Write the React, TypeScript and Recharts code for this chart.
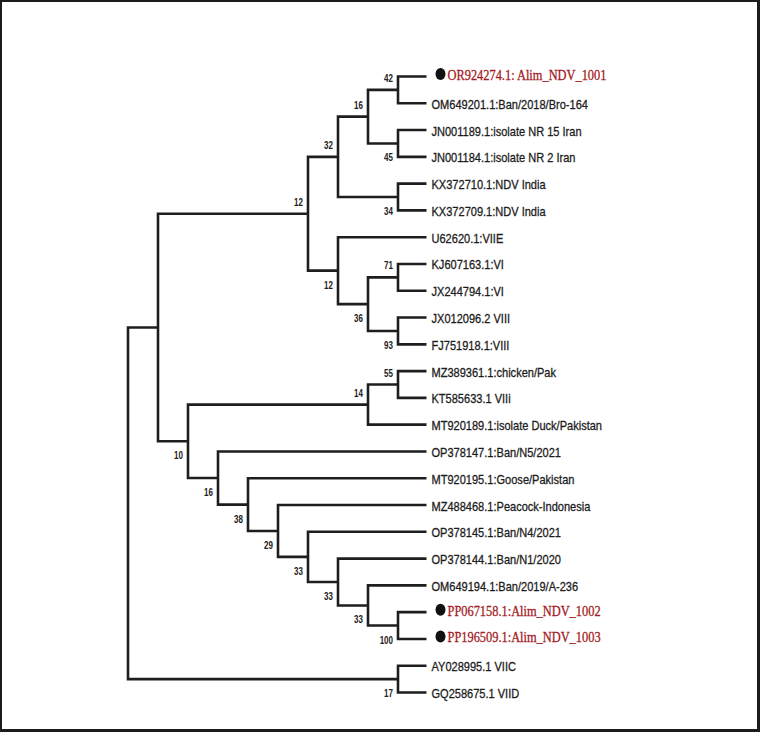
import React from 'react';
import { ComposedChart, Line, Scatter, XAxis, YAxis } from 'recharts';

// leaves, top to bottom
const leafNames = [
  'OR924274.1: Alim_NDV_1001',
  'OM649201.1:Ban/2018/Bro-164',
  'JN001189.1:isolate NR 15 Iran',
  'JN001184.1:isolate NR 2 Iran',
  'KX372710.1:NDV India',
  'KX372709.1:NDV India',
  'U62620.1:VIIE',
  'KJ607163.1:VI',
  'JX244794.1:VI',
  'JX012096.2 VIII',
  'FJ751918.1:VIII',
  'MZ389361.1:chicken/Pak',
  'KT585633.1 VIIi',
  'MT920189.1:isolate Duck/Pakistan',
  'OP378147.1:Ban/N5/2021',
  'MT920195.1:Goose/Pakistan',
  'MZ488468.1:Peacock-Indonesia',
  'OP378145.1:Ban/N4/2021',
  'OP378144.1:Ban/N1/2020',
  'OM649194.1:Ban/2019/A-236',
  'PP067158.1:Alim_NDV_1002',
  'PP196509.1:Alim_NDV_1003',
  'AY028995.1 VIIC',
  'GQ258675.1 VIID',
];

// isolates from this study (marked with a dot)
const novelIsolates = [0, 20, 21];

const leafDepth = 9.95;

// internal nodes: id, depth, children (number = leaf index), bootstrap
const nodeIds = ['root', 'A', 'B', 'C', 'H', 'J', 'K', 'I', 'D', 'E', 'F', 'G', 'L', 'M', 'O', 'N', 'P', 'Q', 'R', 'S', 'T', 'U', 'V'];
const nodeDepths = [0, 1, 6, 7, 8, 9, 9, 9, 7, 8, 9, 9, 2, 8, 9, 3, 4, 5, 6, 7, 8, 9, 9];
const nodeChildren: (string | number)[][] = [
  ['A', 'V'],
  ['B', 'L'],
  ['C', 'D'],
  ['H', 'I'],
  ['J', 'K'],
  [0, 1],
  [2, 3],
  [4, 5],
  [6, 'E'],
  ['F', 'G'],
  [7, 8],
  [9, 10],
  ['M', 'N'],
  ['O', 13],
  [11, 12],
  [14, 'P'],
  [15, 'Q'],
  [16, 'R'],
  [17, 'S'],
  [18, 'T'],
  [19, 'U'],
  [20, 21],
  [22, 23],
];
const bootstrap: (number | null)[] = [null, null, 12, 32, 16, 42, 45, 34, 12, 36, 71, 93, 10, 14, 55, 16, 38, 29, 33, 33, 33, 100, 17];

const nodeIndex: Record<string, number> = Object.fromEntries(nodeIds.map((id, i) => [id, i]));

function posOf(c: string | number): { x: number; y: number } {
  if (typeof c === 'number') return { x: leafDepth, y: c };
  const i = nodeIndex[c];
  const kids = nodeChildren[i];
  const a = posOf(kids[0]);
  const b = posOf(kids[kids.length - 1]);
  return { x: nodeDepths[i], y: (a.y + b.y) / 2 };
}

// elbow branches, broken by null
const branchPoints: { x: number; y: number | null }[] = [];
nodeIds.forEach((id, i) => {
  const p = posOf(id);
  const [c1, c2] = nodeChildren[i].map(posOf);
  branchPoints.push(
    { x: c1.x, y: c1.y },
    { x: p.x, y: c1.y },
    { x: p.x, y: c2.y },
    { x: c2.x, y: c2.y },
    { x: c2.x, y: null },
  );
});

const leafPoints = leafNames.map((name, i) => ({ x: leafDepth, y: i, name, novel: novelIsolates.includes(i) }));

const supportPoints = nodeIds
  .map((id, i) => ({ id, i }))
  .filter(({ i }) => bootstrap[i] != null)
  .map(({ id, i }) => {
    const p = posOf(id);
    const above = nodeChildren.some((k) => k[0] === id);
    return { x: p.x, y: p.y, value: bootstrap[i], above };
  });

const LeafLabel = (props: any) => {
  const { cx, cy, payload } = props;
  if (payload.novel) {
    return (
      <g>
        <ellipse cx={cx + 14} cy={cy - 2.5} rx={5} ry={6} fill="#111" />
        <text
          transform={`translate(${cx + 21},${cy + 3.5}) scale(0.8,1)`}
          fontFamily="'Liberation Serif', serif"
          fontSize={15.5}
          fill="#a3191e"
          stroke="#a3191e"
          strokeWidth={0.3}
        >
          {payload.name}
        </text>
      </g>
    );
  }
  return (
    <text
      transform={`translate(${cx + 5},${cy + 5.5}) scale(0.85,1)`}
      fontFamily="'Liberation Sans', Arial, sans-serif"
      fontSize={13}
      fill="#1c1c1c"
      stroke="#1c1c1c"
      strokeWidth={0.3}
    >
      {payload.name}
    </text>
  );
};

const SupportLabel = (props: any) => {
  const { cx, cy, payload } = props;
  return (
    <text
      transform={`translate(${cx - 5},${cy + (payload.above ? -8 : 18)}) scale(0.8,1)`}
      textAnchor="end"
      fontFamily="'Liberation Sans', Arial, sans-serif"
      fontSize={10}
      fontWeight="bold"
      fill="#222"
    >
      {payload.value}
    </text>
  );
};

export default function App() {
  return (
    <div style={{ position: 'absolute', left: 0, top: 0, width: 760, height: 732, background: '#fff' }}>
      <ComposedChart width={760} height={732} margin={{ top: 76.5, right: 32, bottom: 39.5, left: 128 }}>
        <XAxis type="number" dataKey="x" domain={[0, 20]} hide />
        <YAxis type="number" dataKey="y" domain={[0, 23]} reversed hide />
        <Line
          data={branchPoints}
          dataKey="y"
          stroke="#1e1e1e"
          strokeWidth={2.6}
          dot={false}
          activeDot={false}
          type="linear"
          isAnimationActive={false}
        />
        <Scatter data={leafPoints} shape={LeafLabel} isAnimationActive={false} />
        <Scatter data={supportPoints} shape={SupportLabel} isAnimationActive={false} />
      </ComposedChart>
      <div
        style={{
          position: 'absolute',
          left: 0,
          top: 0,
          width: 760,
          height: 732,
          boxSizing: 'border-box',
          borderStyle: 'solid',
          borderColor: '#1c1c1c',
          borderWidth: '2px 3px 3px 2px',
          pointerEvents: 'none',
        }}
      />
    </div>
  );
}
